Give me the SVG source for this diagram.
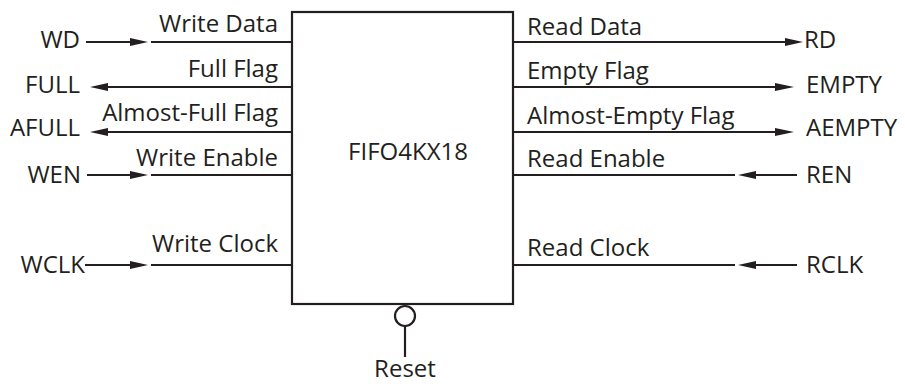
<svg xmlns="http://www.w3.org/2000/svg" width="905" height="384" viewBox="0 0 905 384">
<style>
text{font-family:"Open Sans","Noto Sans","Liberation Sans",sans-serif;font-size:24px;fill:#231f20}
.ln{stroke:#231f20;stroke-width:2.2;fill:none}
.ah{fill:#231f20}
.r{text-anchor:end}
.m{text-anchor:middle}
</style>
<rect width="905" height="384" fill="#fff"/>
<g id="fifo">
<rect x="292" y="12" width="221" height="292" class="ln"/>
<text x="408" y="160" class="m">FIFO4KX18</text>
</g>
<g id="connectors">
<!-- WD -->
<line x1="86" y1="42" x2="132" y2="42" class="ln"/>
<polygon points="130,38 148,42 130,46" class="ah"/>
<line x1="151" y1="42" x2="292" y2="42" class="ln"/>
<!-- FULL -->
<line x1="106" y1="87" x2="292" y2="87" class="ln"/>
<polygon points="108,83 90,87 108,91" class="ah"/>
<!-- AFULL -->
<line x1="106" y1="132" x2="292" y2="132" class="ln"/>
<polygon points="108,128 90,132 108,136" class="ah"/>
<!-- WEN -->
<line x1="87" y1="175" x2="132" y2="175" class="ln"/>
<polygon points="130,171 148,175 130,179" class="ah"/>
<line x1="151" y1="175" x2="292" y2="175" class="ln"/>
<!-- WCLK -->
<line x1="85" y1="265" x2="132" y2="265" class="ln"/>
<polygon points="130,261 148,265 130,269" class="ah"/>
<line x1="151" y1="265" x2="292" y2="265" class="ln"/>
<!-- RD -->
<line x1="513" y1="42" x2="787" y2="42" class="ln"/>
<polygon points="785,38 803,42 785,46" class="ah"/>
<!-- EMPTY -->
<line x1="513" y1="87" x2="777" y2="87" class="ln"/>
<polygon points="775,83 794,87 775,91" class="ah"/>
<!-- AEMPTY -->
<line x1="513" y1="132" x2="777" y2="132" class="ln"/>
<polygon points="775,128 794,132 775,136" class="ah"/>
<!-- REN -->
<line x1="513" y1="175" x2="735" y2="175" class="ln"/>
<polygon points="756,171 738,175 756,179" class="ah"/>
<line x1="754" y1="175" x2="797" y2="175" class="ln"/>
<!-- RCLK -->
<line x1="513" y1="265" x2="735" y2="265" class="ln"/>
<polygon points="756,261 738,265 756,269" class="ah"/>
<line x1="754" y1="265" x2="797" y2="265" class="ln"/>
<!-- Reset -->
<circle cx="405" cy="316" r="10" class="ln"/>
<line x1="405" y1="326" x2="405" y2="357" class="ln"/>
</g>
<g id="labels">
<text x="278" y="32" class="r">Write Data</text>
<text x="278" y="77" class="r">Full Flag</text>
<text x="278" y="121" class="r">Almost-Full Flag</text>
<text x="278" y="166" class="r">Write Enable</text>
<text x="278" y="252" class="r">Write Clock</text>
<text x="80" y="48" class="r">WD</text>
<text x="80" y="93" class="r">FULL</text>
<text x="80" y="136" class="r">AFULL</text>
<text x="81" y="183" class="r">WEN</text>
<text x="85" y="273" class="r">WCLK</text>
<text x="527" y="35" >Read Data</text>
<text x="527" y="79" >Empty Flag</text>
<text x="527" y="124" >Almost-Empty Flag</text>
<text x="527" y="167" >Read Enable</text>
<text x="527" y="256" >Read Clock</text>
<text x="804" y="48">RD</text>
<text x="806" y="93">EMPTY</text>
<text x="806" y="136">AEMPTY</text>
<text x="806" y="183">REN</text>
<text x="806" y="273">RCLK</text>
<text x="405" y="377" class="m">Reset</text>
</g>
</svg>
